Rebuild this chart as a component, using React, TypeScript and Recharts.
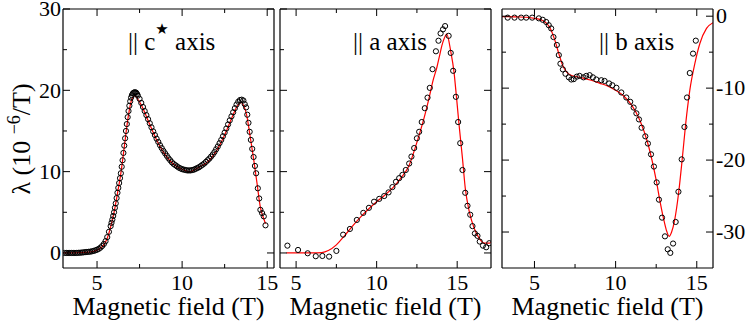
import React from 'react';
import { ComposedChart, Scatter, Line, XAxis, YAxis } from 'recharts';

const FONT = "'Liberation Serif', 'Times New Roman', Times, serif";

// ---- Panel 1: || c* axis ----
const cCircles: number[][] = [
  [3.1, 0.0], [3.2, 0.0], [3.3, 0.0], [3.4, 0.0], [3.5, 0.0], [3.6, 0.0], [3.7, 0.0], [3.8, 0.0],
  [3.9, 0.02], [4.0, 0.03], [4.1, 0.05], [4.2, 0.07], [4.3, 0.1], [4.4, 0.12], [4.5, 0.14], [4.6, 0.16],
  [4.7, 0.2], [4.8, 0.25], [4.9, 0.32], [5.0, 0.4], [5.1, 0.5], [5.2, 0.65], [5.3, 0.85], [5.4, 1.1],
  [5.5, 1.45], [5.6, 1.95], [5.7, 2.6], [5.8, 3.3], [5.85, 3.7], [5.9, 4.1], [5.95, 4.55], [6.0, 5.0],
  [6.05, 5.55], [6.1, 6.1], [6.15, 6.75], [6.2, 7.4], [6.25, 8.0], [6.3, 8.6], [6.35, 9.2], [6.4, 9.8],
  [6.45, 10.6], [6.5, 11.4], [6.55, 12.3], [6.6, 13.2], [6.65, 14.1], [6.7, 15.0], [6.75, 15.85],
  [6.8, 16.7], [6.85, 17.45], [6.9, 18.1], [6.95, 18.65], [7.0, 19.1], [7.05, 19.4], [7.1, 19.6],
  [7.15, 19.7], [7.2, 19.75], [7.25, 19.75], [7.3, 19.7], [7.35, 19.55], [7.4, 19.35], [7.5, 18.95],
  [7.6, 18.45], [7.7, 17.95], [7.8, 17.45], [7.9, 16.95], [8.0, 16.45], [8.1, 15.95], [8.2, 15.45],
  [8.3, 14.95], [8.4, 14.5], [8.5, 14.05], [8.6, 13.65], [8.7, 13.25], [8.8, 12.9], [8.9, 12.55],
  [9.0, 12.25], [9.1, 11.95], [9.2, 11.65], [9.3, 11.4], [9.4, 11.15], [9.5, 10.95], [9.6, 10.8],
  [9.7, 10.65], [9.8, 10.5], [9.9, 10.4], [10.0, 10.3], [10.1, 10.25], [10.2, 10.2], [10.3, 10.15],
  [10.4, 10.15], [10.5, 10.15], [10.6, 10.2], [10.7, 10.25], [10.8, 10.35], [10.9, 10.45], [11.0, 10.55],
  [11.1, 10.7], [11.2, 10.85], [11.3, 11.0], [11.4, 11.2], [11.5, 11.4], [11.6, 11.6], [11.7, 11.85],
  [11.8, 12.1], [11.9, 12.4], [12.0, 12.75], [12.1, 13.1], [12.2, 13.5], [12.3, 13.9], [12.4, 14.35],
  [12.5, 14.8], [12.6, 15.3], [12.7, 15.8], [12.8, 16.3], [12.9, 16.8], [13.0, 17.3], [13.1, 17.8],
  [13.2, 18.25], [13.3, 18.6], [13.4, 18.8], [13.5, 18.85], [13.6, 18.75], [13.68, 18.3], [13.76, 17.9],
  [13.83, 17.0], [13.9, 16.0], [13.97, 14.9], [14.04, 13.9], [14.12, 12.8], [14.2, 11.8], [14.28, 10.7],
  [14.35, 9.8], [14.45, 7.95], [14.53, 6.7], [14.6, 5.3], [14.7, 4.9], [14.8, 4.5], [14.9, 3.4],
];
const cFit: number[][] = [
  [3.0, 0], [3.5, 0], [4.0, 0.03], [4.5, 0.1], [4.8, 0.2], [5.0, 0.35], [5.2, 0.6], [5.4, 1.0],
  [5.6, 1.8], [5.8, 3.2], [6.0, 5.0], [6.2, 7.3], [6.4, 9.8], [6.6, 13.0], [6.8, 16.3], [6.9, 17.6],
  [7.0, 18.6], [7.1, 19.1], [7.2, 19.3], [7.3, 19.2], [7.4, 18.9], [7.6, 18.2], [7.8, 17.3], [8.0, 16.3],
  [8.5, 13.9], [9.0, 12.1], [9.5, 10.9], [10.0, 10.3], [10.3, 10.05], [10.5, 10.0], [10.8, 10.3],
  [11.0, 10.55], [11.5, 11.2], [12.0, 12.5], [12.5, 14.5], [13.0, 17.0], [13.25, 18.1], [13.45, 18.5],
  [13.6, 18.2], [13.8, 16.9], [14.0, 14.3], [14.2, 11.6], [14.4, 8.6], [14.6, 5.6], [14.8, 4.2], [14.9, 3.6],
];

// ---- Panel 2: || a axis ----
const aCircles: number[][] = [
  [4.46, 0.9], [5.12, 0.37], [5.72, -0.04], [6.22, -0.4], [6.63, -0.37], [7.05, -0.45], [7.5, 0.25],
  [7.92, 2.25], [8.34, 2.95], [8.77, 4.06], [9.17, 4.93], [9.52, 5.55], [9.84, 6.3], [10.16, 6.65],
  [10.47, 7.0], [10.74, 7.45], [10.98, 8.1], [11.2, 8.75], [11.4, 9.2], [11.6, 9.6], [11.81, 10.2],
  [12.02, 11.0], [12.16, 11.85], [12.33, 12.9], [12.5, 14.1], [12.64, 14.9], [12.8, 16.1], [12.99, 17.8],
  [13.16, 19.1], [13.3, 20.3], [13.47, 22.6], [13.68, 24.8], [13.84, 26.1], [13.97, 27.0], [14.12, 27.5],
  [14.25, 27.9], [14.47, 26.7], [14.6, 24.6], [14.75, 22.4], [14.92, 19.2], [15.06, 16.1], [15.19, 13.5],
  [15.33, 10.2], [15.5, 7.4], [15.64, 5.8], [15.81, 4.7], [15.95, 3.3], [16.1, 2.4], [16.26, 2.1],
  [16.4, 1.4], [16.6, 0.9], [16.8, 0.7], [16.99, 1.2],
];
const aFit: number[][] = [
  [4.4, 0], [5.0, 0], [6.0, 0], [6.6, 0.05], [7.0, 0.3], [7.5, 1.0], [8.0, 2.1], [8.5, 3.3], [9.0, 4.4],
  [9.5, 5.4], [10.0, 6.3], [10.5, 7.1], [11.0, 8.0], [11.5, 9.2], [12.0, 10.7], [12.5, 13.6], [13.0, 17.0],
  [13.25, 19.0], [13.5, 21.2], [13.75, 22.9], [13.9, 24.2], [14.05, 25.5], [14.2, 26.4], [14.35, 26.9],
  [14.6, 24.8], [14.8, 22.3], [14.96, 19.1], [15.12, 15.7], [15.33, 11.6], [15.5, 8.0], [15.75, 5.1],
  [16.06, 3.0], [16.37, 1.8], [16.68, 1.2], [17.0, 1.2], [17.1, 1.3],
];

// ---- Panel 3: || b axis ----
const bCircles: number[][] = [
  [3.35, -0.2], [3.77, -0.2], [4.18, -0.2], [4.49, -0.2], [4.86, -0.2], [5.27, -0.3], [5.51, -0.5],
  [5.72, -0.8], [5.88, -1.25], [6.03, -1.7], [6.17, -2.9], [6.38, -4.0], [6.5, -5.4], [6.6, -6.6],
  [6.75, -7.4], [6.91, -8.0], [7.12, -8.5], [7.27, -8.8], [7.42, -8.75], [7.61, -8.4], [7.78, -8.3],
  [8.02, -8.5], [8.19, -8.3], [8.4, -8.2], [8.6, -8.5], [8.81, -8.8], [9.12, -8.9], [9.32, -9.0],
  [9.6, -9.35], [9.8, -9.6], [10.05, -9.95], [10.35, -10.6], [10.66, -11.3], [10.9, -11.9],
  [11.11, -12.7], [11.28, -13.5], [11.44, -14.35], [11.6, -15.5], [11.83, -16.7], [11.99, -17.7],
  [12.18, -19.2], [12.36, -20.9], [12.53, -23.1], [12.67, -25.5], [12.86, -28.0], [13.04, -30.6],
  [13.21, -32.4], [13.37, -32.9], [13.54, -31.6], [13.7, -28.6], [13.87, -24.4], [14.07, -19.9],
  [14.24, -15.4], [14.4, -11.3], [14.57, -7.9], [14.77, -5.2], [14.94, -3.4],
];
const bFit: number[][] = [
  [3.0, -0.05], [4.0, -0.1], [4.5, -0.15], [5.0, -0.3], [5.5, -0.6], [5.75, -1.0], [6.0, -1.8],
  [6.25, -3.3], [6.5, -5.2], [6.75, -6.9], [7.0, -7.8], [7.25, -8.2], [7.5, -8.35], [8.0, -8.6],
  [8.5, -8.9], [9.0, -9.3], [9.5, -9.7], [10.0, -10.3], [10.5, -11.1], [11.0, -12.4], [11.5, -14.5],
  [12.0, -17.8], [12.5, -22.8], [12.75, -25.9], [13.0, -28.6], [13.15, -29.9], [13.3, -30.6],
  [13.45, -30.0], [13.64, -28.3], [13.89, -24.4], [14.12, -19.5], [14.32, -14.9], [14.57, -10.3],
  [14.88, -6.6], [15.19, -3.8], [15.6, -1.7], [16.0, -0.9],
];

// ---- Axis ticks ----
const xTicks = [5, 7.5, 10, 12.5, 15];
const yTicksPos = [0, 5, 10, 15, 20, 25, 30];
const yTicksNeg = [-30, -25, -20, -15, -10, -5, 0];

const panelTitles = ['c', 'a', 'b'];
const xTitle = 'Magnetic field (T)';

type Pt = { x: number; y: number };
const toPts = (a: number[][]): Pt[] => a.map(([x, y]) => ({ x, y }));

type Side = 'left' | 'right' | 'top' | 'bottom';

function makeTick(side: Side, majorStep: number, showLabel: boolean) {
  return (props: any) => {
    const { x, y, payload } = props;
    const v = Number(payload.value);
    const r = v / majorStep;
    const major = Math.abs(r - Math.round(r)) < 1e-6;
    const len = major ? 7 : 4;
    let x2 = x;
    let y2 = y;
    if (side === 'left') x2 = x + len;
    if (side === 'right') x2 = x - len;
    if (side === 'top') y2 = y + len;
    if (side === 'bottom') y2 = y - len;
    let label: React.ReactNode = null;
    if (showLabel && major) {
      const common = { fontFamily: FONT, fontSize: 22, fill: '#000' } as const;
      if (side === 'left')
        label = <text x={x - 2} y={y} dy="0.33em" textAnchor="end" {...common}>{String(v)}</text>;
      if (side === 'right')
        label = <text x={x + 3} y={y} dy="0.33em" textAnchor="start" {...common}>{String(v)}</text>;
      if (side === 'bottom')
        label = <text x={x} y={y + 22} textAnchor="middle" {...common}>{String(v)}</text>;
    }
    return (
      <g>
        <line x1={x} y1={y} x2={x2} y2={y2} stroke="#000" strokeWidth={1} />
        {label}
      </g>
    );
  };
}

const OpenCircle = (p: any) => (
  <circle cx={p.cx} cy={p.cy} r={2.6} fill="none" stroke="#000" strokeWidth={1} />
);

type PanelProps = {
  left: number;
  xDomain: [number, number];
  yDomain: [number, number];
  yTicks: number[];
  yLabelSide: 'left' | 'right' | 'none';
  circles: number[][];
  fit: number[][];
};

const PW = 211;

function Panel({ left, xDomain, yDomain, yTicks, yLabelSide, circles, fit }: PanelProps) {
  const axisLine = { stroke: '#000', strokeWidth: 1.2 };
  const common = {
    type: 'number' as const,
    allowDataOverflow: true,
    tickSize: 0,
    tickMargin: 0,
    interval: 0 as const,
    tickLine: false,
    axisLine,
  };
  return (
    <div style={{ position: 'absolute', left: 0, top: 0 }}>
      <ComposedChart
        width={747}
        height={321}
        margin={{ top: 8, bottom: 52, left: left - 1, right: 747 - left - PW - 1 }}
      >
        <XAxis xAxisId="b" dataKey="x" orientation="bottom" height={1} domain={xDomain} ticks={xTicks}
          tick={makeTick('bottom', 5, true)} {...common} />
        <XAxis xAxisId="t" dataKey="x" orientation="top" height={1} domain={xDomain} ticks={xTicks}
          tick={makeTick('top', 5, false)} {...common} />
        <YAxis yAxisId="l" dataKey="y" orientation="left" width={1} domain={yDomain} ticks={yTicks}
          tick={makeTick('left', 10, yLabelSide === 'left')} {...common} />
        <YAxis yAxisId="r" dataKey="y" orientation="right" width={1} domain={yDomain} ticks={yTicks}
          tick={makeTick('right', 10, yLabelSide === 'right')} {...common} />
        <Scatter xAxisId="b" yAxisId="l" data={toPts(circles)} dataKey="y" shape={OpenCircle}
          isAnimationActive={false} />
        <Line xAxisId="b" yAxisId="l" data={toPts(fit)} dataKey="y" type="monotone" stroke="#ff0000"
          strokeWidth={1.2} dot={false} activeDot={false} isAnimationActive={false} />
      </ComposedChart>
    </div>
  );
}

export default function App() {
  const titleStyle = { fontFamily: FONT, fontSize: 25, fill: '#000' };
  return (
    <div style={{ position: 'absolute', left: 0, top: 0, width: 747, height: 321, background: '#fff' }}>
      <Panel left={63} xDomain={[3, 15.4]} yDomain={[-1.85, 30]} yTicks={yTicksPos} yLabelSide="left"
        circles={cCircles} fit={cFit} />
      <Panel left={280} xDomain={[4, 17.1]} yDomain={[-1.85, 30]} yTicks={yTicksPos} yLabelSide="none"
        circles={aCircles} fit={aFit} />
      <Panel left={502} xDomain={[3, 16]} yDomain={[-35, 1]} yTicks={yTicksNeg} yLabelSide="right"
        circles={bCircles} fit={bFit} />
      <svg width={747} height={321} style={{ position: 'absolute', left: 0, top: 0, pointerEvents: 'none' }}>
        <text x={128} y={50} {...titleStyle}>
          {'|| ' + panelTitles[0]}
          <tspan dy={-16} fontSize={15} fontFamily="'DejaVu Sans', sans-serif">★</tspan>
          <tspan dy={16}>{' axis'}</tspan>
        </text>
        <text x={353} y={50} {...titleStyle}>{'|| ' + panelTitles[1] + ' axis'}</text>
        <text x={599} y={50} {...titleStyle}>{'|| ' + panelTitles[2] + ' axis'}</text>
        <text x={168.5} y={315} textAnchor="middle" fontFamily={FONT} fontSize={26}>{xTitle}</text>
        <text x={385.5} y={315} textAnchor="middle" fontFamily={FONT} fontSize={26}>{xTitle}</text>
        <text x={607.5} y={315} textAnchor="middle" fontFamily={FONT} fontSize={26}>{xTitle}</text>
        <text transform="translate(30,139) rotate(-90)" textAnchor="middle" fontFamily={FONT} fontSize={26}>
          {'λ (10 '}
          <tspan dy={-10} fontSize={18}>−6</tspan>
          <tspan dy={10}>/T)</tspan>
        </text>
      </svg>
    </div>
  );
}
